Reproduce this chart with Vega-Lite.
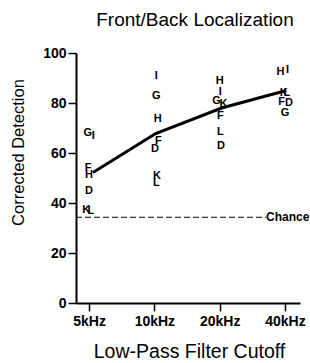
{
  "$schema": "https://vega.github.io/schema/vega-lite/v6.json",
  "width": 224,
  "height": 250,
  "autosize": "none",
  "padding": {"left": 76, "top": 53, "right": 10, "bottom": 60},
  "background": "white",
  "config": {
    "view": {"stroke": null},
    "font": "Liberation Sans",
    "axis": {
      "grid": false,
      "domainColor": "black",
      "domainWidth": 2,
      "tickColor": "black",
      "tickWidth": 1.5,
      "tickSize": 8,
      "labelFont": "Liberation Sans",
      "labelFontSize": 14,
      "labelFontWeight": "bold",
      "labelColor": "black",
      "titleFont": "Liberation Sans",
      "titleFontSize": 16,
      "titleFontWeight": "normal",
      "titleColor": "black"
    }
  },
  "title": {
    "text": "Front/Back Localization",
    "fontSize": 19,
    "fontWeight": "normal",
    "font": "Liberation Sans",
    "color": "black",
    "anchor": "middle",
    "frame": "group",
    "dx": 7,
    "offset": 16
  },
  "encoding": {
    "x": {
      "field": "x",
      "type": "quantitative",
      "scale": {"domain": [-0.2, 3.23], "nice": false, "zero": false},
      "axis": {
        "values": [0, 1, 2, 3],
        "labelExpr": "['5kHz','10kHz','20kHz','40kHz'][datum.value]",
        "title": "Low-Pass Filter Cutoff",
        "titleFontSize": 19.5,
        "labelPadding": 3,
        "titleX": 113,
        "titleY": 39,
        "titleBaseline": "top",
        "titleAnchor": "middle"
      }
    },
    "y": {
      "field": "y",
      "type": "quantitative",
      "scale": {"domain": [0, 100], "nice": false},
      "axis": {
        "values": [0, 20, 40, 60, 80, 100],
        "title": "Corrected Detection",
        "titleFontSize": 16.5,
        "labelPadding": 2,
        "titleX": -50,
        "titleY": 99,
        "titleAngle": -90,
        "titleAlign": "center",
        "titleBaseline": "bottom"
      }
    }
  },
  "layer": [
    {
      "data": {"values": [{"x": -0.2, "x2": 2.71, "y": 34.3}]},
      "mark": {"type": "rule", "color": "black", "strokeWidth": 1.2, "strokeDash": [6, 3]},
      "encoding": {"x2": {"field": "x2"}}
    },
    {
      "data": {"values": [{"x": 2.71, "y": 34.3, "label": "Chance"}]},
      "mark": {"type": "text", "align": "left", "baseline": "middle", "fontSize": 12, "fontWeight": "bold", "color": "black", "clip": false},
      "encoding": {"text": {"field": "label"}}
    },
    {
      "data": {"values": [
        {"x": 0.06, "y": 52.2},
        {"x": 1.02, "y": 67.8},
        {"x": 2.03, "y": 78},
        {"x": 3.02, "y": 85}
      ]},
      "mark": {"type": "line", "color": "black", "strokeWidth": 3}
    },
    {
      "data": {"values": [
        {"x": -0.02, "y": 68, "s": "G"},
        {"x": 0.066, "y": 66.8, "s": "I"},
        {"x": -0.015, "y": 54, "s": "F"},
        {"x": 0.0, "y": 51.2, "s": "H"},
        {"x": 0.0, "y": 44.8, "s": "D"},
        {"x": -0.045, "y": 37.2, "s": "K"},
        {"x": 0.026, "y": 37, "s": "L"},
        {"x": 1.03, "y": 91, "s": "I"},
        {"x": 1.03, "y": 83, "s": "G"},
        {"x": 1.05, "y": 73.5, "s": "H"},
        {"x": 1.06, "y": 65, "s": "F"},
        {"x": 1.01, "y": 61.5, "s": "D"},
        {"x": 1.04, "y": 51, "s": "K"},
        {"x": 1.03, "y": 48, "s": "L"},
        {"x": 2.0, "y": 89, "s": "H"},
        {"x": 2.01, "y": 84.5, "s": "I"},
        {"x": 1.95, "y": 81, "s": "G"},
        {"x": 2.06, "y": 79.6, "s": "K"},
        {"x": 2.01, "y": 75, "s": "F"},
        {"x": 2.01, "y": 68.5, "s": "L"},
        {"x": 2.02, "y": 63, "s": "D"},
        {"x": 2.93, "y": 92.5, "s": "H"},
        {"x": 3.04, "y": 93.2, "s": "I"},
        {"x": 2.98, "y": 84, "s": "K"},
        {"x": 3.03, "y": 84, "s": "L"},
        {"x": 2.95, "y": 80.5, "s": "F"},
        {"x": 3.06, "y": 80, "s": "D"},
        {"x": 3.0, "y": 76, "s": "G"}
      ]},
      "mark": {"type": "text", "align": "center", "baseline": "middle", "fontSize": 11, "fontWeight": "bold", "color": "black"},
      "encoding": {"text": {"field": "s"}}
    }
  ]
}
